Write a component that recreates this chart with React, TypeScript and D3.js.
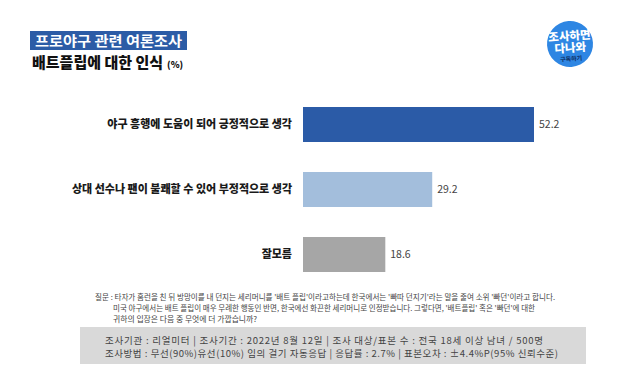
import React, { useEffect, useRef } from 'react';
import * as d3 from 'd3';

const categories = [
  '야구 흥행에 도움이 되어 긍정적으로 생각',
  '상대 선수나 팬이 불쾌할 수 있어 부정적으로 생각',
  '잘모름',
];
const values = [52.2, 29.2, 18.6];
const barColors = ['#2B5BA7', '#A3BEDC', '#A6A6A6'];

const titleText = '프로야구 관련 여론조사';
const subtitleText = '배트플립에 대한 인식';
const questionLines = [
  "질문 : 타자가 홈런을 친 뒤 방망이를 내 던지는 세리머니를 '배트 플립'이라고하는데 한국에서는 '빠따 던지기'라는 말을 줄여 소위 '빠던'이라고 합니다.",
  "미국 야구에서는 배트 플립이 매우 무례한 행동인 반면, 한국에선 화끈한 세리머니로 인정받습니다. 그렇다면, '배트플립' 혹은 '빠던'에 대한",
  '귀하의 입장은 다음 중 무엇에 더 가깝습니까?',
];
const infoLines = [
  '조사기관 : 리얼미터 | 조사기간 : 2022년 8월 12일 | 조사 대상/표본 수 : 전국 18세 이상 남녀 / 500명',
  '조사방법 : 무선(90%)유선(10%) 임의 걸기 자동응답 | 응답률 : 2.7% | 표본오차 : ±4.4%P(95% 신뢰수준)',
];

const W = 640;
const H = 372;
const FONT = "'Noto Sans CJK KR', 'Noto Sans', sans-serif";

export default function App() {
  const svgRef = useRef<SVGSVGElement>(null);

  useEffect(() => {
    const svg = d3.select(svgRef.current);
    svg.selectAll('*').remove();
    svg.style('font-family', FONT);

    svg.append('rect').attr('width', W).attr('height', H).attr('fill', '#fff');

    // title
    svg.append('rect')
      .attr('x', 30).attr('y', 31).attr('width', 157).attr('height', 19)
      .attr('fill', '#2C5CA6');
    svg.append('text')
      .attr('x', 35).attr('y', 46)
      .attr('fill', '#fff').attr('font-weight', 700).attr('font-size', 14)
      .attr('textLength', 147).attr('lengthAdjust', 'spacingAndGlyphs')
      .text(titleText);
    const sub = svg.append('text')
      .attr('x', 32).attr('y', 68)
      .attr('fill', '#111').attr('font-weight', 800).attr('font-size', 15);
    sub.append('tspan').text(subtitleText);
    sub.append('tspan').attr('font-size', 9).attr('dx', 4).text('(%)');

    // logo
    const logo = svg.append('g').attr('transform', 'translate(570,44) rotate(-4)');
    logo.append('circle').attr('r', 23).attr('fill', '#2E86E3');
    logo.append('text').attr('y', -4).attr('text-anchor', 'middle')
      .attr('fill', '#fff').attr('font-weight', 800).attr('font-size', 11.5).text('조사하면');
    logo.append('text').attr('y', 8).attr('text-anchor', 'middle')
      .attr('fill', '#fff').attr('font-weight', 800).attr('font-size', 11.5).text('다나와');
    logo.append('text').attr('y', 17).attr('text-anchor', 'middle')
      .attr('fill', '#0F2A5C').attr('font-weight', 700).attr('font-size', 6).text('구독하기');

    // bars
    const x = d3.scaleLinear().domain([0, d3.max(values) as number]).range([303, 534]);
    const y = d3.scaleBand<string>().domain(categories).range([107, 272])
      .paddingInner(30 / 65).paddingOuter(0);

    const g = svg.append('g');
    g.selectAll('rect.bar')
      .data(values)
      .enter().append('rect')
      .attr('class', 'bar')
      .attr('x', x(0))
      .attr('y', (_, i) => y(categories[i]) as number)
      .attr('width', d => x(d) - x(0))
      .attr('height', y.bandwidth())
      .attr('fill', (_, i) => barColors[i]);

    g.selectAll('text.cat')
      .data(categories)
      .enter().append('text')
      .attr('class', 'cat')
      .attr('x', 292)
      .attr('y', d => (y(d) as number) + y.bandwidth() / 2)
      .attr('dy', '0.35em')
      .attr('text-anchor', 'end')
      .attr('font-weight', 800).attr('font-size', 11).attr('fill', '#1a1a1a')
      .text(d => d);

    g.selectAll('text.val')
      .data(values)
      .enter().append('text')
      .attr('class', 'val')
      .attr('x', d => x(d) + 5)
      .attr('y', (_, i) => (y(categories[i]) as number) + y.bandwidth() / 2)
      .attr('dy', '0.35em')
      .attr('font-size', 10.5).attr('fill', '#444')
      .text(d => d.toFixed(1));

    // question
    const qx = [95, 113, 113];
    const qLen = [460, 422, 144];
    questionLines.forEach((line, i) => {
      svg.append('text')
        .attr('x', qx[i]).attr('y', 300 + i * 11)
        .attr('font-size', 7.5).attr('fill', '#444')
        .attr('textLength', qLen[i]).attr('lengthAdjust', 'spacingAndGlyphs')
        .text(line);
    });

    // info box
    svg.append('rect')
      .attr('x', 80).attr('y', 327).attr('width', 506).attr('height', 37)
      .attr('fill', '#D9D9D9');
    const infoLen = [438, 453];
    infoLines.forEach((line, i) => {
      svg.append('text')
        .attr('x', 105).attr('y', 344 + i * 12.5)
        .attr('font-size', 9.5).attr('fill', '#444')
        .attr('textLength', infoLen[i]).attr('lengthAdjust', 'spacing')
        .text(line);
    });
  }, []);

  return (
    <div style={{ position: 'fixed', left: 0, top: 0 }}>
      <svg ref={svgRef} width={W} height={H} />
    </div>
  );
}
